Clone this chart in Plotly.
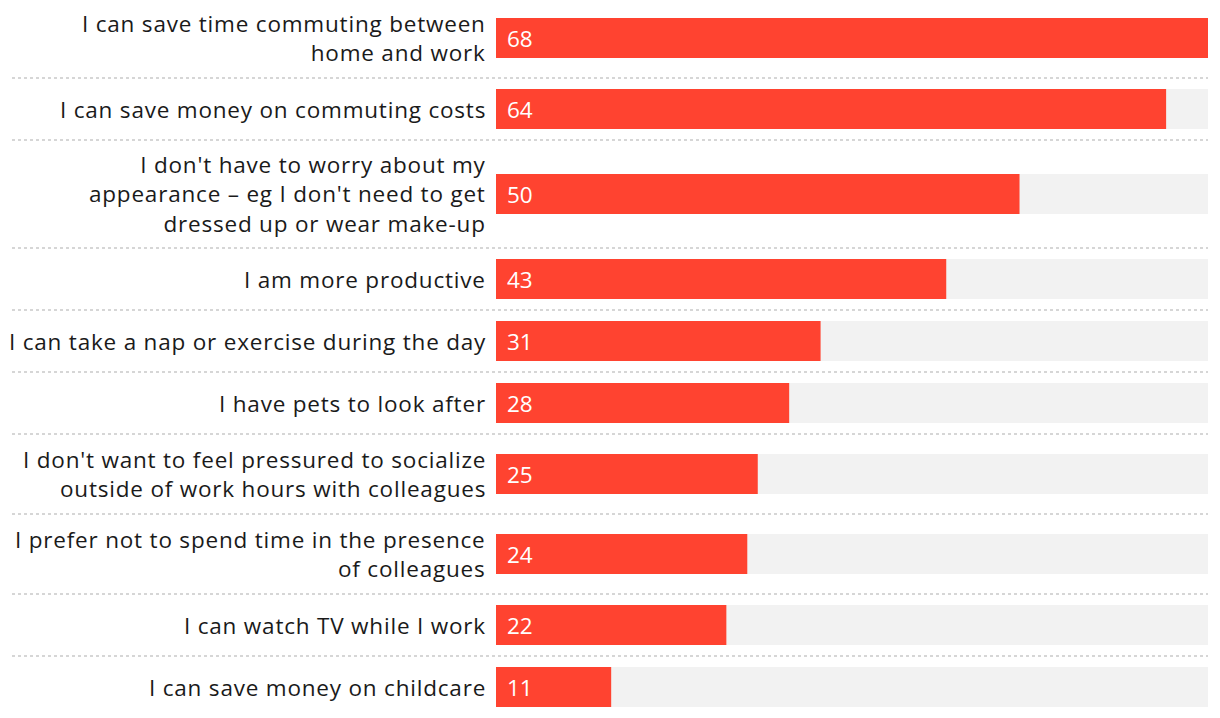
import plotly.graph_objects as go

labels = [
    "I can save time commuting between<br>home and work",
    "I can save money on commuting costs",
    "I don't have to worry about my<br>appearance – eg I don't need to get<br>dressed up or wear make-up",
    "I am more productive",
    "I can take a nap or exercise during the day",
    "I have pets to look after",
    "I don't want to feel pressured to socialize<br>outside of work hours with colleagues",
    "I prefer not to spend time in the presence<br>of colleagues",
    "I can watch TV while I work",
    "I can save money on childcare",
]
values = [68, 64, 50, 43, 31, 28, 25, 24, 22, 11]

W, H = 1220, 718
FONT = "Open Sans"
FS = 22.5
RED = "#ff4330"
TRACK = "#f2f2f2"

# row heights derived from number of label lines
line_counts = [l.count("<br>") + 1 for l in labels]
heights = [max(62, 28 * n + 24) for n in line_counts]
tops = []
t = -2
for h in heights:
    tops.append(t)
    t += h
centers = [tp + h / 2 for tp, h in zip(tops, heights)]
xmax = max(values)


def spaced(txt, ls="0.8px"):
    return "<br>".join(f'<span style="letter-spacing:{ls}">{p}</span>' for p in txt.split("<br>"))


fig = go.Figure()
fig.add_trace(go.Bar(x=[xmax] * len(values), y=centers, orientation="h", width=40,
                     marker=dict(color=TRACK, line=dict(width=0)), hoverinfo="skip"))
fig.add_trace(go.Bar(x=values, y=centers, orientation="h", width=40,
                     marker=dict(color=RED, line=dict(width=0))))

x0d, x1d = 496 / W, 1208 / W
annotations = []
shapes = []
for lab, v, c in zip(labels, values, centers):
    annotations.append(dict(xref="paper", yref="y", x=x0d, y=c, text=spaced(lab), showarrow=False,
                            xanchor="right", yanchor="middle", align="right", xshift=-8,
                            font=dict(family=FONT, size=FS, color="#1a1a1a")))
    annotations.append(dict(xref="x", yref="y", x=0, y=c, text=str(v), showarrow=False,
                            xanchor="left", yanchor="middle", xshift=9,
                            font=dict(family=FONT, size=FS, color="white")))
for tp in tops[1:]:
    shapes.append(dict(type="line", xref="paper", yref="y", x0=12 / W, x1=x1d, y0=tp, y1=tp,
                       line=dict(color="#d6d6d6", width=2, dash="dot"), layer="below"))

fig.update_layout(
    width=W, height=H, margin=dict(l=0, r=0, t=0, b=0),
    paper_bgcolor="white", plot_bgcolor="white",
    barmode="overlay", showlegend=False,
    xaxis=dict(domain=[x0d, x1d], range=[0, xmax], visible=False, fixedrange=True),
    yaxis=dict(range=[H, 0], visible=False, fixedrange=True),
    annotations=annotations, shapes=shapes,
)
fig.write_html("out.html", config={"displayModeBar": False},
               post_script="document.body.style.margin='0';document.body.style.overflow='hidden';")
